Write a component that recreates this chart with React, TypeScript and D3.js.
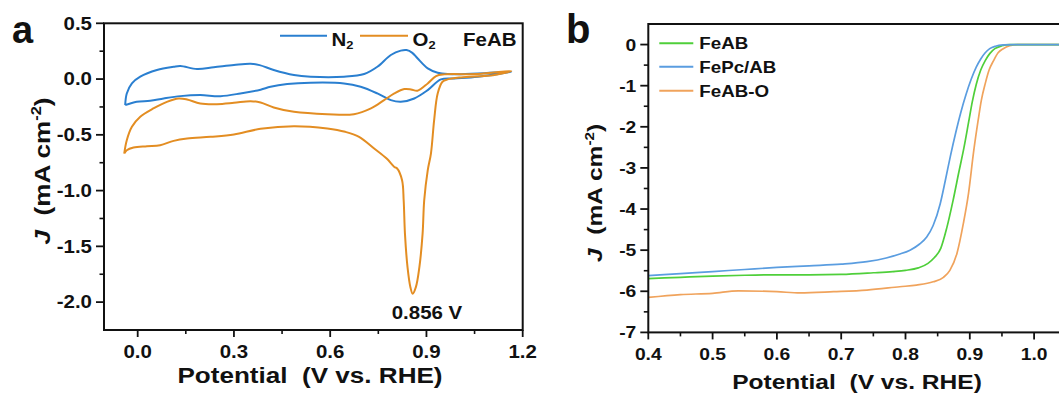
import React from "react";
import * as d3 from "d3";

// ---------- Panel a: CV data (FeAB) ----------
const n2FwdV = [-0.039,-0.034,-0.018,0.008,0.06,0.112,0.133,0.185,0.237,0.3,0.352,0.38,0.424,0.487,0.539,0.643,0.706,0.747,0.789,0.82,0.838,0.856,0.872,0.904,0.935,0.966,1.06,1.164];
const n2FwdJ = [-0.234,-0.129,-0.039,0.021,0.081,0.11,0.117,0.09,0.105,0.126,0.138,0.125,0.081,0.036,0.021,0.021,0.045,0.11,0.216,0.255,0.26,0.235,0.186,0.096,0.057,0.045,0.051,0.066];
const n2RevV = [1.164,1.06,0.987,0.945,0.904,0.862,0.82,0.789,0.747,0.695,0.643,0.539,0.466,0.414,0.383,0.32,0.258,0.195,0.133,0.081,0.039,-0.003,-0.039];
const n2RevJ = [0.036,0.021,0.006,-0.003,-0.099,-0.174,-0.204,-0.189,-0.129,-0.069,-0.039,-0.033,-0.045,-0.069,-0.095,-0.129,-0.153,-0.144,-0.153,-0.174,-0.195,-0.204,-0.234];
const o2FwdV = [-0.042,-0.034,-0.018,0.008,0.049,0.091,0.128,0.154,0.195,0.247,0.3,0.352,0.383,0.424,0.487,0.591,0.674,0.727,0.768,0.8,0.831,0.852,0.872,0.904,0.93,0.956,1.06,1.164];
const o2FwdJ = [-0.668,-0.548,-0.428,-0.338,-0.263,-0.204,-0.174,-0.183,-0.219,-0.225,-0.213,-0.198,-0.21,-0.255,-0.294,-0.315,-0.315,-0.263,-0.189,-0.129,-0.09,-0.093,-0.105,-0.039,0.027,0.042,0.045,0.072];
const o2RevV = [1.164,1.112,1.008,0.966,0.95,0.935,0.924,0.914,0.904,0.893,0.888,0.878,0.867,0.857,0.85,0.841,0.833,0.829,0.824,0.808,0.8,0.776,0.737,0.69,0.647,0.591,0.487,0.383,0.3,0.227,0.154,0.112,0.07,0.029,-0.013,-0.034,-0.042];
const o2RevJ = [0.05,0.036,0.015,-0.003,-0.024,-0.129,-0.368,-0.668,-0.818,-1.087,-1.386,-1.686,-1.866,-1.925,-1.866,-1.686,-1.386,-1.087,-0.907,-0.8,-0.788,-0.713,-0.623,-0.518,-0.473,-0.443,-0.422,-0.446,-0.497,-0.518,-0.533,-0.554,-0.593,-0.602,-0.614,-0.638,-0.668];

const aXTicks = [0, 0.3, 0.6, 0.9, 1.2];
const aXTickLabels = ["0.0", "0.3", "0.6", "0.9", "1.2"];
const aXMinor = [0.15, 0.45, 0.75, 1.05];
const aYTicks = [0.5, 0, -0.5, -1.0, -1.5, -2.0];
const aYTickLabels = ["0.5", "0.0", "-0.5", "-1.0", "-1.5", "-2.0"];
const aYMinor = [0.25, -0.25, -0.75, -1.25, -1.75];

// ---------- Panel b: LSV data ----------
const feabV = [0.4,0.45,0.5,0.55,0.6,0.65,0.7,0.75,0.78,0.8,0.82,0.835,0.845,0.855,0.864,0.874,0.883,0.891,0.898,0.904,0.91,0.917,0.924,0.931,0.939,0.95,0.962,0.98,1.1];
const feabJ = [-5.69,-5.66,-5.63,-5.61,-5.6,-5.6,-5.59,-5.55,-5.52,-5.49,-5.43,-5.32,-5.18,-4.95,-4.47,-3.79,-3.1,-2.5,-1.9,-1.38,-0.97,-0.62,-0.39,-0.22,-0.1,-0.03,0,0,0];
const fepcV = [0.4,0.45,0.5,0.55,0.6,0.65,0.7,0.74,0.77,0.79,0.807,0.822,0.833,0.843,0.854,0.862,0.87,0.878,0.886,0.894,0.902,0.91,0.917,0.924,0.931,0.94,0.952,0.97,1.1];
const fepcJ = [-5.62,-5.57,-5.52,-5.47,-5.42,-5.38,-5.34,-5.28,-5.19,-5.1,-5.0,-4.85,-4.68,-4.4,-3.87,-3.3,-2.7,-2.15,-1.65,-1.22,-0.85,-0.55,-0.35,-0.2,-0.1,-0.04,-0.01,0,0];
const feaboV = [0.4,0.45,0.5,0.54,0.6,0.636,0.688,0.74,0.791,0.817,0.843,0.859,0.869,0.88,0.89,0.898,0.906,0.913,0.918,0.924,0.93,0.937,0.944,0.952,0.962,0.975,1.1];
const feaboJ = [-6.15,-6.08,-6.05,-5.99,-6.01,-6.04,-6.01,-5.97,-5.89,-5.85,-5.77,-5.66,-5.49,-5.08,-4.35,-3.62,-2.6,-1.84,-1.35,-0.95,-0.62,-0.39,-0.2,-0.1,-0.03,0,0];

const bXTicks = [0.4, 0.5, 0.6, 0.7, 0.8, 0.9, 1.0];
const bXTickLabels = ["0.4", "0.5", "0.6", "0.7", "0.8", "0.9", "1.0"];
const bXMinor = [0.45, 0.55, 0.65, 0.75, 0.85, 0.95, 1.05];
const bYTicks = [0, -1, -2, -3, -4, -5, -6, -7];
const bYTickLabels = ["0", "-1", "-2", "-3", "-4", "-5", "-6", "-7"];
const bYMinor = [-0.5, -1.5, -2.5, -3.5, -4.5, -5.5, -6.5];

const FONT = "'Liberation Sans', Arial, sans-serif";
const SX = 1.17;

const cA = { blue: "#2a7fd0", orange: "#e38d22" };
const cB = { green: "#4fcf3a", blue: "#5a9de0", orange: "#f0a35c" };

function T(props: { x: number; y: number; size: number; anchor?: string; rotate?: boolean; sx?: number; children: any }) {
  const { x, y, size, anchor = "start", rotate = false, sx = SX, children } = props;
  return (
    <text
      transform={`translate(${x},${y})${rotate ? " rotate(-90)" : ""} scale(${sx},1)`}
      textAnchor={anchor}
      fontFamily={FONT}
      fontWeight="bold"
      fontSize={size}
      fill="#111"
      xmlSpace="preserve"
      style={{ whiteSpace: "pre" }}
    >
      {children}
    </text>
  );
}

function zip(v: number[], j: number[]) {
  return v.map((x, i) => [x, j[i]] as [number, number]);
}

function Axes(props: {
  x: d3.ScaleLinear<number, number>;
  y: d3.ScaleLinear<number, number>;
  xt: number[]; xl: string[]; xm: number[];
  yt: number[]; yl: string[]; ym: number[];
  fs: number;
}) {
  const { x, y, xt, xl, xm, yt, yl, ym, fs } = props;
  const [x0, x1] = x.range();
  const [y0, y1] = y.range();
  return (
    <g>
      <rect x={x0} y={y1} width={x1 - x0} height={y0 - y1} fill="none" stroke="#111" strokeWidth={2} />
      {xt.map((t, i) => (
        <g key={"xt" + i}>
          <line x1={x(t)} x2={x(t)} y1={y0} y2={y0 + 7} stroke="#111" strokeWidth={1.8} />
          <T x={x(t)} y={y0 + 27.5} size={fs} anchor="middle">{xl[i]}</T>
        </g>
      ))}
      {xm.map((t, i) => (
        <line key={"xm" + i} x1={x(t)} x2={x(t)} y1={y0} y2={y0 + 4} stroke="#111" strokeWidth={1.6} />
      ))}
      {yt.map((t, i) => (
        <g key={"yt" + i}>
          <line x1={x0} x2={x0 - 8} y1={y(t)} y2={y(t)} stroke="#111" strokeWidth={1.8} />
          <T x={x0 - 12} y={y(t) + fs * 0.36} size={fs} anchor="end">{yl[i]}</T>
        </g>
      ))}
      {ym.map((t, i) => (
        <line key={"ym" + i} x1={x0} x2={x0 - 4.5} y1={y(t)} y2={y(t)} stroke="#111" strokeWidth={1.6} />
      ))}
    </g>
  );
}

export default function App() {
  // Panel a scales
  const ax = d3.scaleLinear().domain([-0.105, 1.2]).range([104, 522.7]);
  const ay = d3.scaleLinear().domain([-2.25, 0.5]).range([330, 23.3]);
  const lineA = d3
    .line<[number, number]>()
    .x((d) => ax(d[0]))
    .y((d) => ay(d[1]))
    .curve(d3.curveCatmullRom.alpha(0.5));

  // Panel b scales
  const bx = d3.scaleLinear().domain([0.4, 1.1]).range([648.3, 648.3 + 0.7 * 643]);
  const by = d3.scaleLinear().domain([-7, 0.5]).range([332.4, 24]);
  const lineB = d3
    .line<[number, number]>()
    .x((d) => bx(d[0]))
    .y((d) => by(d[1]))
    .curve(d3.curveMonotoneX);

  const n2Path = lineA([...zip(n2FwdV, n2FwdJ), ...zip(n2RevV, n2RevJ).slice(1)]) || "";
  const o2Path = lineA([...zip(o2FwdV, o2FwdJ), ...zip(o2RevV, o2RevJ).slice(1)]) || "";

  return (
    <svg
      width={1059}
      height={394}
      viewBox="0 0 1059 394"
      style={{ position: "absolute", left: 0, top: 0, background: "#fff" }}
    >
      <rect x={0} y={0} width={1059} height={394} fill="#fff" />
      <defs>
        <clipPath id="clipA">
          <rect x={104} y={23.3} width={418.7} height={306.7} />
        </clipPath>
        <clipPath id="clipB">
          <rect x={648.3} y={24} width={450} height={308.4} />
        </clipPath>
      </defs>
      {/* ---------- Panel a ---------- */}
      <text x={12} y={43} fontFamily={FONT} fontWeight="bold" fontSize={38} fill="#111">a</text>
      <g clipPath="url(#clipA)">
        <path d={n2Path} fill="none" stroke={cA.blue} strokeWidth={2} strokeLinejoin="round" />
        <path d={o2Path} fill="none" stroke={cA.orange} strokeWidth={2} strokeLinejoin="round" />
      </g>
      <Axes x={ax} y={ay} xt={aXTicks} xl={aXTickLabels} xm={aXMinor} yt={aYTicks} yl={aYTickLabels} ym={aYMinor} fs={17.5} />
      {/* legend a */}
      <line x1={280} x2={327} y1={35.7} y2={35.7} stroke={cA.blue} strokeWidth={2} />
      <T x={331.5} y={46} size={17.5}>
        N<tspan fontSize={11} dy={3}>2</tspan>
      </T>
      <line x1={360} x2={408} y1={35.7} y2={35.7} stroke={cA.orange} strokeWidth={2} />
      <T x={412.5} y={46} size={17.5}>
        O<tspan fontSize={11} dy={3}>2</tspan>
      </T>
      <T x={463} y={46} size={17.5}>FeAB</T>
      <T x={427} y={318.5} size={17.5} anchor="middle">0.856 V</T>
      {/* axis titles a */}
      <T x={310} y={383} size={22.3} anchor="middle">{"Potential  (V vs. RHE)"}</T>
      <T x={50} y={171} size={22.3} anchor="middle" rotate>
        <tspan fontStyle="italic">J</tspan>
        {"  (mA cm"}
        <tspan fontSize={14} dy={-9}>-2</tspan>
        <tspan dy={9}>)</tspan>
      </T>

      {/* ---------- Panel b ---------- */}
      <text x={566} y={42.5} fontFamily={FONT} fontWeight="bold" fontSize={40} fill="#111">b</text>
      <g clipPath="url(#clipB)">
        <path d={lineB(zip(feaboV, feaboJ)) || ""} fill="none" stroke={cB.orange} strokeWidth={1.7} />
        <path d={lineB(zip(feabV, feabJ)) || ""} fill="none" stroke={cB.green} strokeWidth={1.7} />
        <path d={lineB(zip(fepcV, fepcJ)) || ""} fill="none" stroke={cB.blue} strokeWidth={1.7} />
      </g>
      <Axes x={bx} y={by} xt={bXTicks} xl={bXTickLabels} xm={bXMinor} yt={bYTicks} yl={bYTickLabels} ym={bYMinor} fs={16.5} />
      {/* legend b */}
      <line x1={659.3} x2={693.3} y1={43.3} y2={43.3} stroke={cB.green} strokeWidth={2} />
      <T x={699.3} y={49.2} size={16.3} sx={1.15}>FeAB</T>
      <line x1={659.3} x2={693.3} y1={66.7} y2={66.7} stroke={cB.blue} strokeWidth={2} />
      <T x={699.3} y={72.6} size={16.3} sx={1.15}>FePc/AB</T>
      <line x1={659.3} x2={693.3} y1={90.7} y2={90.7} stroke={cB.orange} strokeWidth={2} />
      <T x={699.3} y={96.6} size={16.3} sx={1.15}>FeAB-O</T>
      {/* axis titles b */}
      <T x={857} y={389} size={21} anchor="middle">{"Potential  (V vs. RHE)"}</T>
      <T x={602} y={193} size={21} anchor="middle" rotate>
        <tspan fontStyle="italic">J</tspan>
        {"  (mA cm"}
        <tspan fontSize={13} dy={-8.5}>-2</tspan>
        <tspan dy={8.5}>)</tspan>
      </T>
    </svg>
  );
}
